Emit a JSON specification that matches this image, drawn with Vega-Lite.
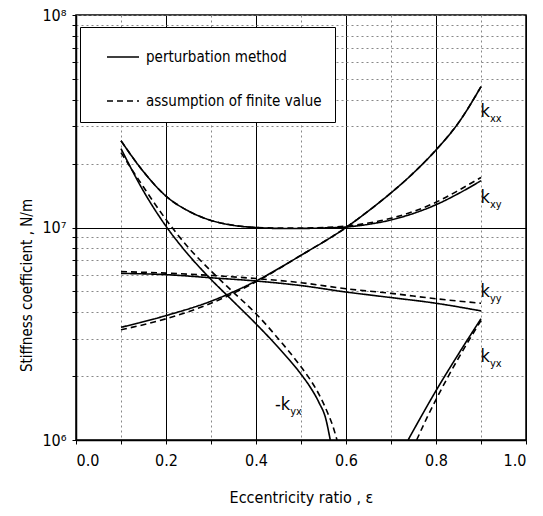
{
  "$schema": "https://vega.github.io/schema/vega-lite/v6.json",
  "width": 450,
  "height": 425,
  "autosize": {"type": "none"},
  "padding": {"left": 76, "top": 15, "right": 17, "bottom": 76},
  "background": "white",
  "config": {
    "font": "DejaVu Sans Condensed, Liberation Sans Narrow, Arial Narrow, sans-serif",
    "view": {"stroke": "black", "strokeWidth": 1.5},
    "axis": {
      "domainColor": "black",
      "domainWidth": 1.5,
      "tickColor": "black",
      "tickSize": 4,
      "labelColor": "black",
      "titleColor": "black",
      "labelFontSize": 16,
      "titleFontSize": 16,
      "titleFontWeight": "normal",
      "gridWidth": 1
    },
    "legend": {
      "labelColor": "black",
      "labelFontSize": 15
    }
  },
  "datasets": {
    "curves": [
      {"curve": "kxy", "method": "perturbation method", "eps": 0.1, "k": 25600000},
      {"curve": "kxy", "method": "perturbation method", "eps": 0.15, "k": 18300000},
      {"curve": "kxy", "method": "perturbation method", "eps": 0.2, "k": 14050000},
      {"curve": "kxy", "method": "perturbation method", "eps": 0.25, "k": 11950000},
      {"curve": "kxy", "method": "perturbation method", "eps": 0.3, "k": 10800000},
      {"curve": "kxy", "method": "perturbation method", "eps": 0.35, "k": 10230000},
      {"curve": "kxy", "method": "perturbation method", "eps": 0.4, "k": 10000000},
      {"curve": "kxy", "method": "perturbation method", "eps": 0.45, "k": 9900000},
      {"curve": "kxy", "method": "perturbation method", "eps": 0.5, "k": 9900000},
      {"curve": "kxy", "method": "perturbation method", "eps": 0.55, "k": 9950000},
      {"curve": "kxy", "method": "perturbation method", "eps": 0.6, "k": 10050000},
      {"curve": "kxy", "method": "perturbation method", "eps": 0.65, "k": 10350000},
      {"curve": "kxy", "method": "perturbation method", "eps": 0.7, "k": 10850000},
      {"curve": "kxy", "method": "perturbation method", "eps": 0.75, "k": 11650000},
      {"curve": "kxy", "method": "perturbation method", "eps": 0.8, "k": 12800000},
      {"curve": "kxy", "method": "perturbation method", "eps": 0.85, "k": 14450000},
      {"curve": "kxy", "method": "perturbation method", "eps": 0.9, "k": 16600000},

      {"curve": "kxy", "method": "assumption of finite value", "eps": 0.1, "k": 25600000},
      {"curve": "kxy", "method": "assumption of finite value", "eps": 0.15, "k": 18300000},
      {"curve": "kxy", "method": "assumption of finite value", "eps": 0.2, "k": 14050000},
      {"curve": "kxy", "method": "assumption of finite value", "eps": 0.25, "k": 11950000},
      {"curve": "kxy", "method": "assumption of finite value", "eps": 0.3, "k": 10800000},
      {"curve": "kxy", "method": "assumption of finite value", "eps": 0.35, "k": 10250000},
      {"curve": "kxy", "method": "assumption of finite value", "eps": 0.4, "k": 10000000},
      {"curve": "kxy", "method": "assumption of finite value", "eps": 0.45, "k": 9950000},
      {"curve": "kxy", "method": "assumption of finite value", "eps": 0.5, "k": 9950000},
      {"curve": "kxy", "method": "assumption of finite value", "eps": 0.55, "k": 10000000},
      {"curve": "kxy", "method": "assumption of finite value", "eps": 0.6, "k": 10150000},
      {"curve": "kxy", "method": "assumption of finite value", "eps": 0.65, "k": 10500000},
      {"curve": "kxy", "method": "assumption of finite value", "eps": 0.7, "k": 11050000},
      {"curve": "kxy", "method": "assumption of finite value", "eps": 0.75, "k": 11900000},
      {"curve": "kxy", "method": "assumption of finite value", "eps": 0.8, "k": 13150000},
      {"curve": "kxy", "method": "assumption of finite value", "eps": 0.85, "k": 14950000},
      {"curve": "kxy", "method": "assumption of finite value", "eps": 0.9, "k": 17200000},

      {"curve": "kxx", "method": "perturbation method", "eps": 0.1, "k": 3390000},
      {"curve": "kxx", "method": "perturbation method", "eps": 0.2, "k": 3850000},
      {"curve": "kxx", "method": "perturbation method", "eps": 0.3, "k": 4500000},
      {"curve": "kxx", "method": "perturbation method", "eps": 0.4, "k": 5600000},
      {"curve": "kxx", "method": "perturbation method", "eps": 0.5, "k": 7400000},
      {"curve": "kxx", "method": "perturbation method", "eps": 0.6, "k": 10000000},
      {"curve": "kxx", "method": "perturbation method", "eps": 0.65, "k": 11970000},
      {"curve": "kxx", "method": "perturbation method", "eps": 0.7, "k": 14550000},
      {"curve": "kxx", "method": "perturbation method", "eps": 0.75, "k": 18070000},
      {"curve": "kxx", "method": "perturbation method", "eps": 0.8, "k": 23170000},
      {"curve": "kxx", "method": "perturbation method", "eps": 0.85, "k": 31100000},
      {"curve": "kxx", "method": "perturbation method", "eps": 0.9, "k": 46000000},

      {"curve": "kxx", "method": "assumption of finite value", "eps": 0.1, "k": 3300000},
      {"curve": "kxx", "method": "assumption of finite value", "eps": 0.2, "k": 3720000},
      {"curve": "kxx", "method": "assumption of finite value", "eps": 0.3, "k": 4400000},
      {"curve": "kxx", "method": "assumption of finite value", "eps": 0.4, "k": 5550000},
      {"curve": "kxx", "method": "assumption of finite value", "eps": 0.5, "k": 7400000},
      {"curve": "kxx", "method": "assumption of finite value", "eps": 0.6, "k": 10000000},
      {"curve": "kxx", "method": "assumption of finite value", "eps": 0.65, "k": 11970000},
      {"curve": "kxx", "method": "assumption of finite value", "eps": 0.7, "k": 14550000},
      {"curve": "kxx", "method": "assumption of finite value", "eps": 0.75, "k": 18070000},
      {"curve": "kxx", "method": "assumption of finite value", "eps": 0.8, "k": 23170000},
      {"curve": "kxx", "method": "assumption of finite value", "eps": 0.85, "k": 31100000},
      {"curve": "kxx", "method": "assumption of finite value", "eps": 0.9, "k": 46000000},

      {"curve": "kyy", "method": "perturbation method", "eps": 0.1, "k": 6080000},
      {"curve": "kyy", "method": "perturbation method", "eps": 0.2, "k": 6000000},
      {"curve": "kyy", "method": "perturbation method", "eps": 0.3, "k": 5800000},
      {"curve": "kyy", "method": "perturbation method", "eps": 0.4, "k": 5600000},
      {"curve": "kyy", "method": "perturbation method", "eps": 0.5, "k": 5330000},
      {"curve": "kyy", "method": "perturbation method", "eps": 0.6, "k": 4970000},
      {"curve": "kyy", "method": "perturbation method", "eps": 0.7, "k": 4680000},
      {"curve": "kyy", "method": "perturbation method", "eps": 0.8, "k": 4400000},
      {"curve": "kyy", "method": "perturbation method", "eps": 0.9, "k": 4050000},

      {"curve": "kyy", "method": "assumption of finite value", "eps": 0.1, "k": 6200000},
      {"curve": "kyy", "method": "assumption of finite value", "eps": 0.2, "k": 6100000},
      {"curve": "kyy", "method": "assumption of finite value", "eps": 0.3, "k": 5950000},
      {"curve": "kyy", "method": "assumption of finite value", "eps": 0.4, "k": 5750000},
      {"curve": "kyy", "method": "assumption of finite value", "eps": 0.5, "k": 5500000},
      {"curve": "kyy", "method": "assumption of finite value", "eps": 0.6, "k": 5150000},
      {"curve": "kyy", "method": "assumption of finite value", "eps": 0.7, "k": 4900000},
      {"curve": "kyy", "method": "assumption of finite value", "eps": 0.8, "k": 4620000},
      {"curve": "kyy", "method": "assumption of finite value", "eps": 0.9, "k": 4400000},

      {"curve": "mkyx", "method": "perturbation method", "eps": 0.1, "k": 23500000},
      {"curve": "mkyx", "method": "perturbation method", "eps": 0.15, "k": 14830000},
      {"curve": "mkyx", "method": "perturbation method", "eps": 0.2, "k": 10140000},
      {"curve": "mkyx", "method": "perturbation method", "eps": 0.25, "k": 7430000},
      {"curve": "mkyx", "method": "perturbation method", "eps": 0.3, "k": 5700000},
      {"curve": "mkyx", "method": "perturbation method", "eps": 0.35, "k": 4480000},
      {"curve": "mkyx", "method": "perturbation method", "eps": 0.4, "k": 3520000},
      {"curve": "mkyx", "method": "perturbation method", "eps": 0.45, "k": 2720000},
      {"curve": "mkyx", "method": "perturbation method", "eps": 0.5, "k": 2040000},
      {"curve": "mkyx", "method": "perturbation method", "eps": 0.52, "k": 1780000},
      {"curve": "mkyx", "method": "perturbation method", "eps": 0.54, "k": 1500000},
      {"curve": "mkyx", "method": "perturbation method", "eps": 0.555, "k": 1260000},
      {"curve": "mkyx", "method": "perturbation method", "eps": 0.565, "k": 1000000},

      {"curve": "mkyx", "method": "assumption of finite value", "eps": 0.1, "k": 22500000},
      {"curve": "mkyx", "method": "assumption of finite value", "eps": 0.15, "k": 15500000},
      {"curve": "mkyx", "method": "assumption of finite value", "eps": 0.2, "k": 10900000},
      {"curve": "mkyx", "method": "assumption of finite value", "eps": 0.25, "k": 8040000},
      {"curve": "mkyx", "method": "assumption of finite value", "eps": 0.3, "k": 6240000},
      {"curve": "mkyx", "method": "assumption of finite value", "eps": 0.35, "k": 4950000},
      {"curve": "mkyx", "method": "assumption of finite value", "eps": 0.4, "k": 3930000},
      {"curve": "mkyx", "method": "assumption of finite value", "eps": 0.45, "k": 2990000},
      {"curve": "mkyx", "method": "assumption of finite value", "eps": 0.5, "k": 2210000},
      {"curve": "mkyx", "method": "assumption of finite value", "eps": 0.52, "k": 1930000},
      {"curve": "mkyx", "method": "assumption of finite value", "eps": 0.54, "k": 1640000},
      {"curve": "mkyx", "method": "assumption of finite value", "eps": 0.56, "k": 1330000},
      {"curve": "mkyx", "method": "assumption of finite value", "eps": 0.57, "k": 1175000},
      {"curve": "mkyx", "method": "assumption of finite value", "eps": 0.58, "k": 1000000},

      {"curve": "kyx", "method": "perturbation method", "eps": 0.738, "k": 1000000},
      {"curve": "kyx", "method": "perturbation method", "eps": 0.76, "k": 1213000},
      {"curve": "kyx", "method": "perturbation method", "eps": 0.8, "k": 1706000},
      {"curve": "kyx", "method": "perturbation method", "eps": 0.85, "k": 2540000},
      {"curve": "kyx", "method": "perturbation method", "eps": 0.9, "k": 3720000},

      {"curve": "kyx", "method": "assumption of finite value", "eps": 0.757, "k": 1000000},
      {"curve": "kyx", "method": "assumption of finite value", "eps": 0.78, "k": 1274000},
      {"curve": "kyx", "method": "assumption of finite value", "eps": 0.8, "k": 1550000},
      {"curve": "kyx", "method": "assumption of finite value", "eps": 0.85, "k": 2430000},
      {"curve": "kyx", "method": "assumption of finite value", "eps": 0.9, "k": 3650000}
    ],
    "labels": [
      {"main": "k", "sub": "xx", "lx": 0.92, "ly": 33200000},
      {"main": "k", "sub": "xy", "lx": 0.92, "ly": 13100000},
      {"main": "k", "sub": "yy", "lx": 0.92, "ly": 4690000},
      {"main": "k", "sub": "yx", "lx": 0.92, "ly": 2320000},
      {"main": "-k", "sub": "yx", "lx": 0.476, "ly": 1380000}
    ]
  },
  "layer": [
    {
      "data": {"name": "curves"},
      "mark": {"type": "line", "color": "black", "strokeWidth": 1.6, "interpolate": "monotone"},
      "encoding": {
        "x": {
          "field": "eps",
          "type": "quantitative",
          "scale": {"domain": [0, 1]},
          "axis": {
            "title": "Eccentricity ratio , ε",
            "values": [0, 0.1, 0.2, 0.3, 0.4, 0.5, 0.6, 0.7, 0.8, 0.9, 1.0],
            "format": ".1f",
            "labelExpr": "round(datum.value*10) % 2 == 0 ? datum.label : ''",
            "labelPadding": 8,
            "grid": true,
            "gridColor": {"condition": {"test": "round(datum.value*10) % 2 == 0", "value": "black"}, "value": "#888888"},
            "gridDash": {"condition": {"test": "round(datum.value*10) % 2 == 0", "value": []}, "value": [2, 3]},
            "titleY": 57,
            "titleBaseline": "middle"
          }
        },
        "y": {
          "field": "k",
          "type": "quantitative",
          "scale": {"type": "log", "domain": [1000000, 100000000]},
          "axis": {
            "title": "Stiffness coefficient , N/m",
            "titleFontSize": 15,
            "values": [1000000, 2000000, 3000000, 4000000, 5000000, 6000000, 7000000, 8000000, 9000000, 10000000, 20000000, 30000000, 40000000, 50000000, 60000000, 70000000, 80000000, 90000000, 100000000],
            "labelExpr": "datum.value == 1000000 ? '10⁶' : datum.value == 10000000 ? '10⁷' : datum.value == 100000000 ? '10⁸' : ''",
            "labelPadding": 6,
            "grid": true,
            "gridColor": {"condition": {"test": "datum.value == 10000000", "value": "black"}, "value": "#888888"},
            "gridDash": {"condition": {"test": "datum.value == 10000000", "value": []}, "value": [2, 3]},
            "titleX": -50,
            "titleY": 270,
            "titleAngle": -90,
            "titleAlign": "center",
            "titleBaseline": "middle"
          }
        },
        "detail": {"field": "curve"},
        "order": {"field": "eps", "type": "quantitative"},
        "strokeDash": {
          "field": "method",
          "type": "nominal",
          "scale": {
            "domain": ["perturbation method", "assumption of finite value"],
            "range": [[1, 0], [6, 4]]
          },
          "legend": {
            "title": null,
            "orient": "none",
            "legendX": 4,
            "legendY": 12,
            "direction": "vertical",
            "strokeColor": "black",
            "fillColor": "white",
            "padding": 13,
            "symbolType": "stroke",
            "symbolSize": 1024,
            "symbolStrokeWidth": 1.6,
            "symbolStrokeColor": "black",
            "symbolOffset": 13,
            "labelOffset": 6,
            "labelFontSize": 15,
            "labelLimit": 400,
            "rowPadding": 19
          }
        }
      }
    },
    {
      "data": {"name": "labels"},
      "mark": {"type": "text", "align": "right", "baseline": "alphabetic", "fontSize": 18, "color": "black"},
      "encoding": {
        "x": {"field": "lx", "type": "quantitative"},
        "y": {"field": "ly", "type": "quantitative"},
        "text": {"field": "main"}
      }
    },
    {
      "data": {"name": "labels"},
      "mark": {"type": "text", "align": "left", "baseline": "alphabetic", "fontSize": 11, "dy": 5, "color": "black"},
      "encoding": {
        "x": {"field": "lx", "type": "quantitative"},
        "y": {"field": "ly", "type": "quantitative"},
        "text": {"field": "sub"}
      }
    }
  ]
}
